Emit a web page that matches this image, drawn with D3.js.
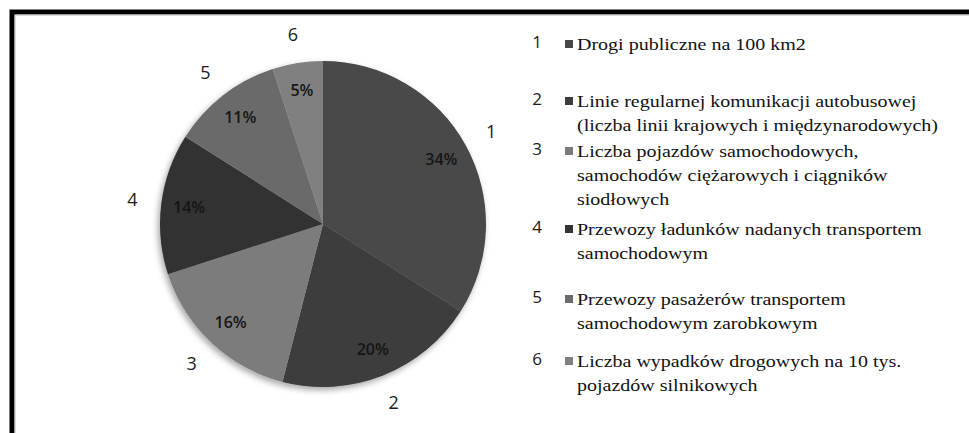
<!DOCTYPE html>
<meta charset="utf-8">
<style>
body { margin: 0; background: #fff; }
.pct { font-family: "Open Sans", sans-serif; font-weight: 600; font-size: 16px; fill: #151515; }
.num { font-family: "Open Sans", sans-serif; font-size: 18px; fill: #1a1a1a; }
.leg { font-family: "Liberation Serif", serif; font-size: 16px; fill: #111; }
</style>
<svg width="969" height="433"></svg>
<script src="https://cdn.jsdelivr.net/npm/d3@7/dist/d3.min.js"></script>
<script>
// slice ids, shares (%) and legend texts (already broken into lines)
var ids = ["1", "2", "3", "4", "5", "6"];
var shares = [34, 20, 16, 14, 11, 5];
var shades = ["#484848", "#3c3c3c", "#7b7b7b", "#333333", "#6b6b6b", "#808080"];
var legendLines = [
  ["Drogi publiczne na 100 km2"],
  ["Linie regularnej komunikacji autobusowej", "(liczba linii krajowych i międzynarodowych)"],
  ["Liczba pojazdów samochodowych,", "samochodów ciężarowych i ciągników", "siodłowych"],
  ["Przewozy ładunków nadanych transportem", "samochodowym"],
  ["Przewozy pasażerów transportem", "samochodowym zarobkowym"],
  ["Liczba wypadków drogowych na 10 tys.", "pojazdów silnikowych"]
];
// legend row baselines
var legendY = [50, 107, 157, 235, 305, 367];

var svg = d3.select("svg");
var cx = 323, cy = 224, R = 163;

// frame: thick black top and left edges
svg.append("path")
    .attr("d", "M12,433V12H969")
    .attr("fill", "none")
    .attr("stroke", "#000")
    .attr("stroke-width", 5);
svg.append("path")
    .attr("d", "M15,433V15H969")
    .attr("fill", "none")
    .attr("stroke", "#bbb")
    .attr("stroke-width", 1);

var defs = svg.append("defs");
defs.append("filter").attr("id", "shadow")
    .attr("x", "-20%").attr("y", "-20%").attr("width", "140%").attr("height", "140%")
  .append("feDropShadow")
    .attr("dx", -2).attr("dy", 3).attr("stdDeviation", 3)
    .attr("flood-color", "#000").attr("flood-opacity", 0.35);

var pie = d3.pie().sort(null).value(function(d){ return d; });
var arcs = pie(shares);
var arc = d3.arc().innerRadius(0).outerRadius(R);
var pctArc = d3.arc().innerRadius(135).outerRadius(135);
var numArc = d3.arc().innerRadius(192).outerRadius(192);

var g = svg.append("g").attr("transform", "translate(" + cx + "," + cy + ")");

g.append("g").attr("filter", "url(#shadow)")
  .selectAll("path")
  .data(arcs)
  .enter().append("path")
    .attr("d", arc)
    .attr("fill", function(d, i){ return shades[i]; });

g.selectAll("text.pct")
  .data(arcs)
  .enter().append("text")
    .attr("class", "pct")
    .attr("text-anchor", "middle")
    .attr("dy", "0.35em")
    .attr("transform", function(d){ return "translate(" + pctArc.centroid(d) + ")"; })
    .text(function(d){ return d.value + "%"; });

g.selectAll("text.num")
  .data(arcs)
  .enter().append("text")
    .attr("class", "num")
    .attr("text-anchor", "middle")
    .attr("dy", "0.35em")
    .attr("transform", function(d){ return "translate(" + numArc.centroid(d) + ")"; })
    .text(function(d, i){ return ids[i]; });

// legend
var rows = svg.append("g").selectAll("g.row")
  .data(legendLines)
  .enter().append("g")
    .attr("class", "row")
    .attr("transform", function(d, i){ return "translate(0," + legendY[i] + ")"; });

rows.append("text")
    .attr("class", "num")
    .attr("x", 537)
    .attr("y", -2)
    .attr("text-anchor", "middle")
    .style("font-size", "17px")
    .text(function(d, i){ return ids[i]; });

rows.append("rect")
    .attr("x", 565).attr("y", -10)
    .attr("width", 8).attr("height", 8)
    .attr("fill", function(d, i){ return shades[i]; });

// legend text is stretched sideways like in the source image
rows.selectAll("text.leg")
  .data(function(d){ return d; })
  .enter().append("text")
    .attr("class", "leg")
    .attr("transform", function(d, j){ return "translate(577," + (j * 24) + ") scale(1.25,1)"; })
    .text(function(d){ return d; });
</script>
